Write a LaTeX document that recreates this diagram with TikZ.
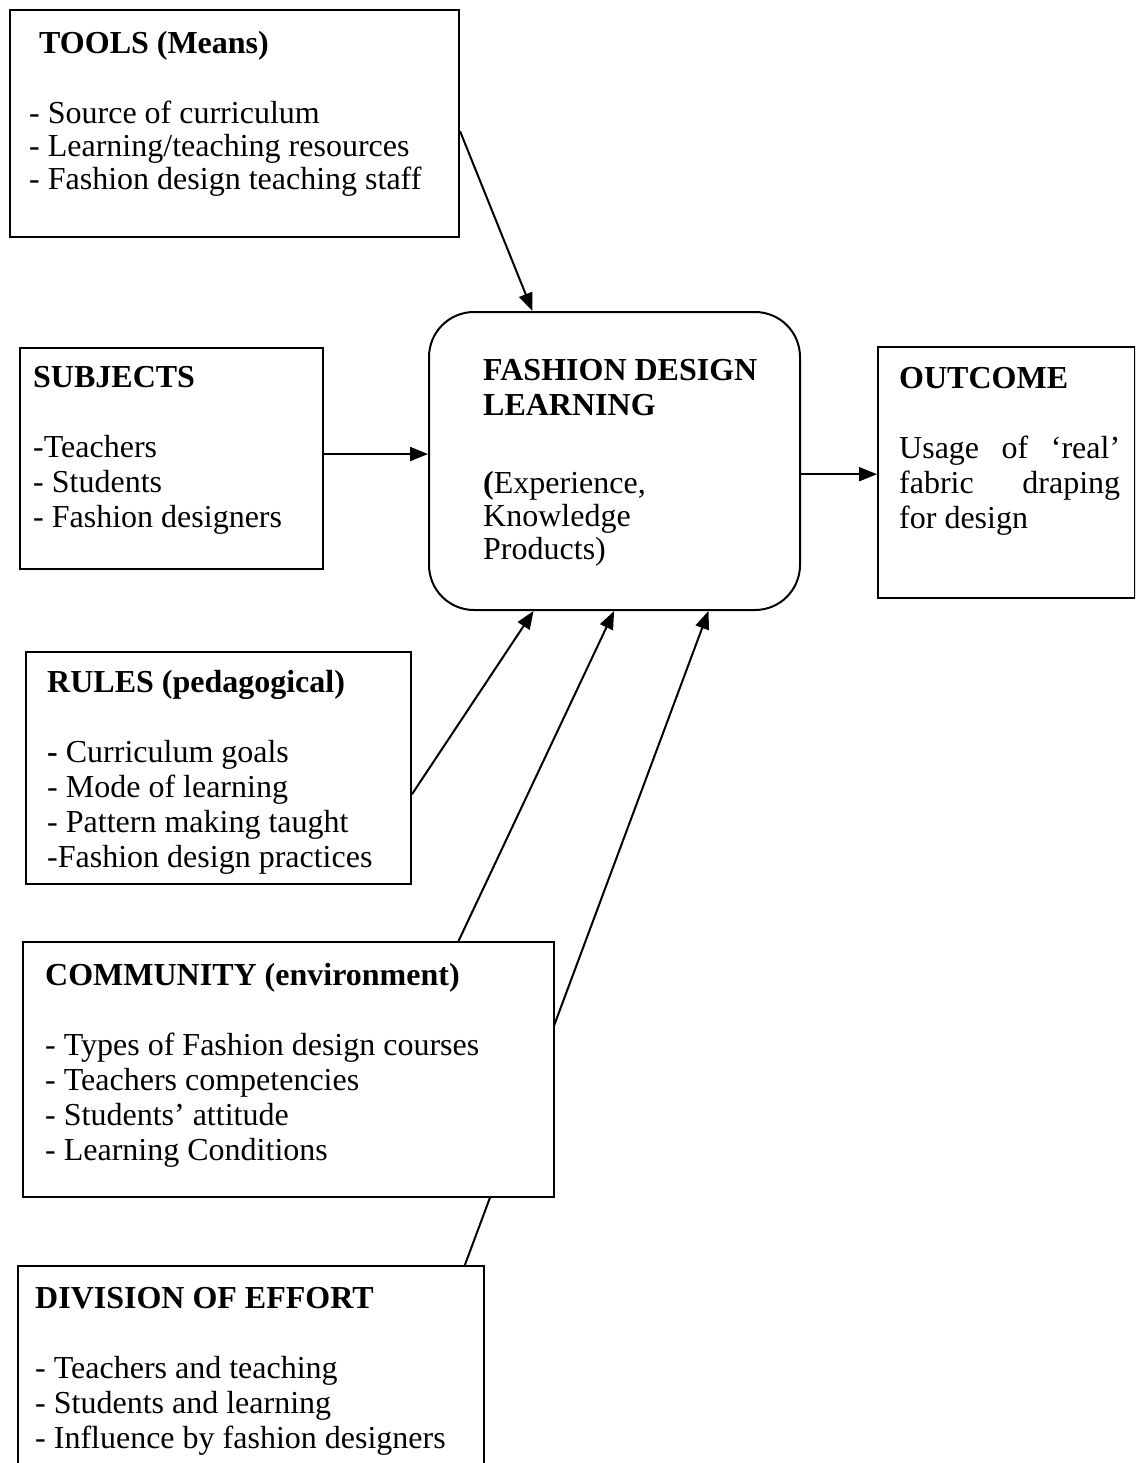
\documentclass[tikz,border=0pt]{standalone}
\usepackage{fontspec}
\setmainfont{Liberation Serif}
\usetikzlibrary{arrows.meta,calc}
\tikzset{
  box/.style={draw, line width=2pt, fill=white, inner sep=0pt, anchor=north west},
  txt/.style={anchor=base west, inner sep=0pt, font=\fontsize{32}{35}\selectfont},
  conn/.style={line width=2pt},
  arr/.style={conn, -{Triangle[length=18pt,width=14pt]}},
}
\newcommand\hd[1]{\hbox{\bfseries #1}}
\newcommand\itm[1]{\hbox{#1}}
\newcommand\gap{\hbox{}}
\begin{document}
\begin{tikzpicture}[x=1pt,y=-1pt]
\useasboundingbox (0,0) rectangle (1135,1463);
\clip (0,0) rectangle (1135,1463);

% boxes
\node[box, minimum width=449pt, minimum height=227pt] (tools) at (9,9) {};
\node[txt] (toolst) at (29,54) {\vtop{\hbox{\kern10pt\bfseries TOOLS (Means)}\gap
  \itm{- Source of curriculum}\vskip-2pt\itm{- Learning/teaching resources}\vskip-2pt\itm{- Fashion design teaching staff}}};

\node[box, minimum width=303pt, minimum height=221pt] (subjects) at (19,347) {};
\node[txt] (subjectst) at (33,387) {\vtop{\hd{SUBJECTS}\gap
  \itm{-Teachers}\itm{- Students}\itm{- Fashion designers}}};

\node[box, rounded corners=45pt, minimum width=371pt, minimum height=298pt] (fdl) at (428,311) {};
\node[txt] (fdlt) at (483,380) {\vtop{\hd{FASHION DESIGN}\hd{LEARNING}\gap\vskip8pt
  \itm{\textbf{(}Experience,}\vskip-2pt\itm{Knowledge}\vskip-2pt\itm{Products)}}};

\node[box, minimum width=257pt, minimum height=251pt] (outcome) at (877,346) {};
\node[txt] (outcomet) at (899,388) {\vtop{\hd{OUTCOME}\gap
  \hbox to 221pt{Usage\hfill of\hfill ‘real’}\hbox to 221pt{fabric\hfill draping}\itm{for design}}};

\node[box, minimum width=385pt, minimum height=232pt] (rules) at (25,651) {};
\node[txt] (rulest) at (47,692) {\vtop{\hd{RULES (pedagogical)}\gap
  \itm{\textbf{-} Curriculum goals}\itm{- Mode of learning}\itm{- Pattern making taught}\itm{-Fashion design practices}}};

\node[box, minimum width=466pt, minimum height=260pt] (division) at (17,1265) {};
\node[txt] (divisiont) at (35,1308) {\vtop{\hd{DIVISION OF EFFORT}\gap
  \itm{- Teachers and teaching}\itm{- Students and learning}\itm{- Influence by fashion designers}}};

% connector from division runs behind the community box
\draw[arr] ($(division.north west)!0.957!(division.north east)$) -- ($(fdl.south west)!0.752!(fdl.south east)$);

\node[box, minimum width=531pt, minimum height=255pt] (community) at (22,941) {};
\node[txt] (communityt) at (45,985) {\vtop{\hd{COMMUNITY (environment)}\gap
  \itm{- Types of Fashion design courses}\itm{- Teachers competencies}\itm{- Students’ attitude}\itm{- Learning Conditions}}};

% connectors
\draw[arr] ($(tools.north east)!0.533!(tools.south east)$) -- ($(fdl.north west)!0.28!(fdl.north east)$);
\coordinate (s1) at ($(subjects.north east)!0.48!(subjects.south east)$);
\draw[arr] (s1) -- (s1 -| fdl.west);
\coordinate (o1) at ($(fdl.north east)!0.544!(fdl.south east)$);
\draw[arr] (o1) -- (o1 -| outcome.west);
\draw[arr] ($(rules.north east)!0.612!(rules.south east)$) -- ($(fdl.south west)!0.283!(fdl.south east)$);
\draw[arr] ($(community.north west)!0.819!(community.north east)$) -- ($(fdl.south west)!0.499!(fdl.south east)$);
\end{tikzpicture}
\end{document}
